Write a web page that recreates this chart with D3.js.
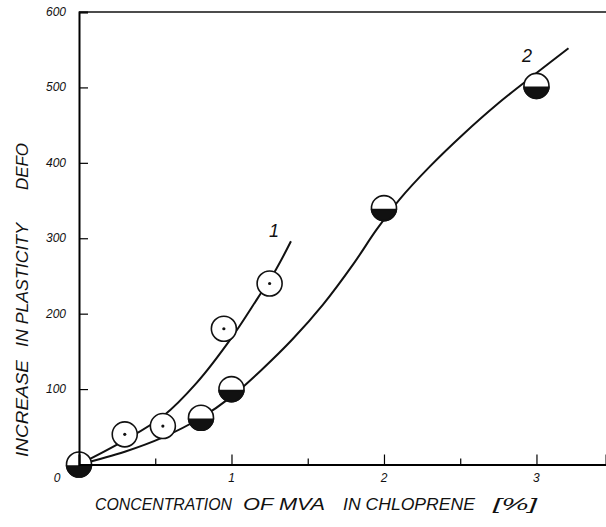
<!DOCTYPE html>
<html>
<head>
<meta charset="utf-8">
<script src="https://cdn.jsdelivr.net/npm/d3@7"></script>
<style>
  body { margin: 0; background: #fff; }
  text { font-family: "Liberation Sans", Arial, sans-serif; font-style: italic; fill: #111; }
</style>
</head>
<body>
<div id="chart"></div>
<script>
// svg size
var svgWidth = 606;
var svgHeight = 527;

// data
var xTicks = [1, 2, 3];
var xMinorTicks = [0.5, 1.5, 2.5];
var yTicks = [100, 200, 300, 400, 500, 600];

// series 1: open circles with a dot
var pointsX1 = [0.3, 0.55, 0.95, 1.25];
var pointsY1 = [40, 51, 180, 240];
// series 2: half filled circles
var pointsX2 = [0, 0.8, 1.0, 2.0, 3.0];
var pointsY2 = [0, 62, 100, 340, 502];

// drawn curves
var curveX1 = [0, 0.29, 0.55, 0.77, 1.0, 1.17, 1.29, 1.39];
var curveY1 = [0, 31, 64, 108, 168, 220, 258, 296];
var curveX2 = [0, 0.3, 0.55, 0.8, 1.0, 1.2, 1.4, 1.6, 1.8, 1.95, 2.1, 2.3, 2.52, 2.75, 3.0, 3.21];
var curveY2 = [0, 17, 36, 62, 90, 126, 166, 212, 266, 311, 351, 395, 438, 479, 519, 552];

var svg = d3.select("#chart")
  .append("svg")
  .attr("width", svgWidth)
  .attr("height", svgHeight);

// scales
var x = d3.scaleLinear().domain([0, 3.456]).range([79, 606]);
var y = d3.scaleLinear().domain([0, 600]).range([464.5, 12]);

// curves
var line = d3.line()
  .x(d => x(d[0]))
  .y(d => y(d[1]))
  .curve(d3.curveCatmullRom.alpha(0.5));

svg.append("path")
  .datum(curveX1.map((v, i) => [v, curveY1[i]]))
  .attr("d", line)
  .attr("fill", "none")
  .attr("stroke", "#111")
  .attr("stroke-width", 2);

svg.append("path")
  .datum(curveX2.map((v, i) => [v, curveY2[i]]))
  .attr("d", line)
  .attr("fill", "none")
  .attr("stroke", "#111")
  .attr("stroke-width", 2);

// markers
var r = 12.5;

var open = svg.selectAll("g.open")
  .data(pointsX1.map((v, i) => [v, pointsY1[i]]))
  .enter()
  .append("g")
  .attr("class", "open")
  .attr("transform", d => `translate(${x(d[0])}, ${y(d[1])})`);

open.append("circle")
  .attr("r", r)
  .attr("fill", "#fff")
  .attr("stroke", "#111")
  .attr("stroke-width", 1.6);

open.append("circle")
  .attr("r", 1.6)
  .attr("fill", "#111");

var half = svg.selectAll("g.half")
  .data(pointsX2.map((v, i) => [v, pointsY2[i]]))
  .enter()
  .append("g")
  .attr("class", "half")
  .attr("transform", d => `translate(${x(d[0])}, ${y(d[1])})`);

half.append("circle")
  .attr("r", r)
  .attr("fill", "#fff")
  .attr("stroke", "#111")
  .attr("stroke-width", 1.6);

// bottom half black
var c = 1.5;
var hw = Math.sqrt(r * r - c * c);
half.append("path")
  .attr("d", `M ${-hw},${c} A ${r} ${r} 0 0 0 ${hw},${c} Z`)
  .attr("fill", "#111")
  .attr("stroke", "#111")
  .attr("stroke-width", 1.6);

// axes, drawn on top of the markers
var xAxis = d3.axisBottom(x)
  .tickValues(xTicks)
  .tickSize(-10)
  .tickFormat("");

svg.append("g")
  .attr("transform", `translate(0, ${y(0)})`)
  .call(xAxis)
  .call(g => g.select(".domain").attr("stroke-width", 2))
  .call(g => g.selectAll(".tick line").attr("stroke-width", 1.2));

svg.append("g")
  .attr("transform", `translate(0, ${y(0)})`)
  .call(d3.axisBottom(x).tickValues(xMinorTicks).tickSize(-6).tickFormat(""))
  .call(g => g.select(".domain").remove())
  .call(g => g.selectAll(".tick line").attr("stroke-width", 1.2));

var yAxis = d3.axisLeft(y)
  .tickValues(yTicks)
  .tickSize(-9)
  .tickFormat("");

svg.append("g")
  .attr("transform", `translate(${x(0)}, 0)`)
  .call(yAxis)
  .call(g => g.select(".domain").attr("stroke-width", 2))
  .call(g => g.selectAll(".tick line").attr("stroke-width", 1.2));

// top frame line
svg.append("line")
  .attr("x1", x(0))
  .attr("x2", svgWidth)
  .attr("y1", y(600))
  .attr("y2", y(600))
  .attr("stroke", "#111")
  .attr("stroke-width", 1.6);

// tick labels
svg.selectAll("text.xlab")
  .data(xTicks)
  .enter()
  .append("text")
  .attr("class", "xlab")
  .attr("x", d => x(d))
  .attr("y", 482)
  .attr("text-anchor", "middle")
  .attr("font-size", 12)
  .text(d => d);

svg.append("text")
  .attr("x", 57)
  .attr("y", 482)
  .attr("text-anchor", "middle")
  .attr("font-size", 12)
  .text("0");

svg.selectAll("text.ylab")
  .data(yTicks)
  .enter()
  .append("text")
  .attr("class", "ylab")
  .attr("x", 66)
  .attr("y", d => y(d) + 4)
  .attr("text-anchor", "end")
  .attr("font-size", 12)
  .text(d => d);

// curve labels
svg.append("text")
  .attr("x", 274)
  .attr("y", 237)
  .attr("text-anchor", "middle")
  .attr("font-size", 18)
  .text("1");

svg.append("text")
  .attr("x", 527)
  .attr("y", 62)
  .attr("text-anchor", "middle")
  .attr("font-size", 18)
  .text("2");

// x title
var xTitle = [
  { t: "CONCENTRATION", x0: 95, w: 137 },
  { t: "OF MVA", x0: 243, w: 82 },
  { t: "IN CHLOPRENE", x0: 343, w: 132 },
  { t: "[%]", x0: 493, w: 44 }
];

svg.selectAll("text.xt")
  .data(xTitle)
  .enter()
  .append("text")
  .attr("class", "xt")
  .attr("x", d => d.x0)
  .attr("y", 510)
  .attr("font-size", 16)
  .attr("textLength", d => d.w)
  .attr("lengthAdjust", "spacingAndGlyphs")
  .text(d => d.t);

// y title
var yTitle = [
  { t: "INCREASE", y0: 457, w: 97 },
  { t: "IN PLASTICITY", y0: 347, w: 124 },
  { t: "DEFO", y0: 190, w: 47 }
];

svg.selectAll("text.yt")
  .data(yTitle)
  .enter()
  .append("text")
  .attr("class", "yt")
  .attr("transform", d => `translate(28, ${d.y0}) rotate(-90)`)
  .attr("font-size", 16)
  .attr("textLength", d => d.w)
  .attr("lengthAdjust", "spacingAndGlyphs")
  .text(d => d.t);
</script>
</body>
</html>
